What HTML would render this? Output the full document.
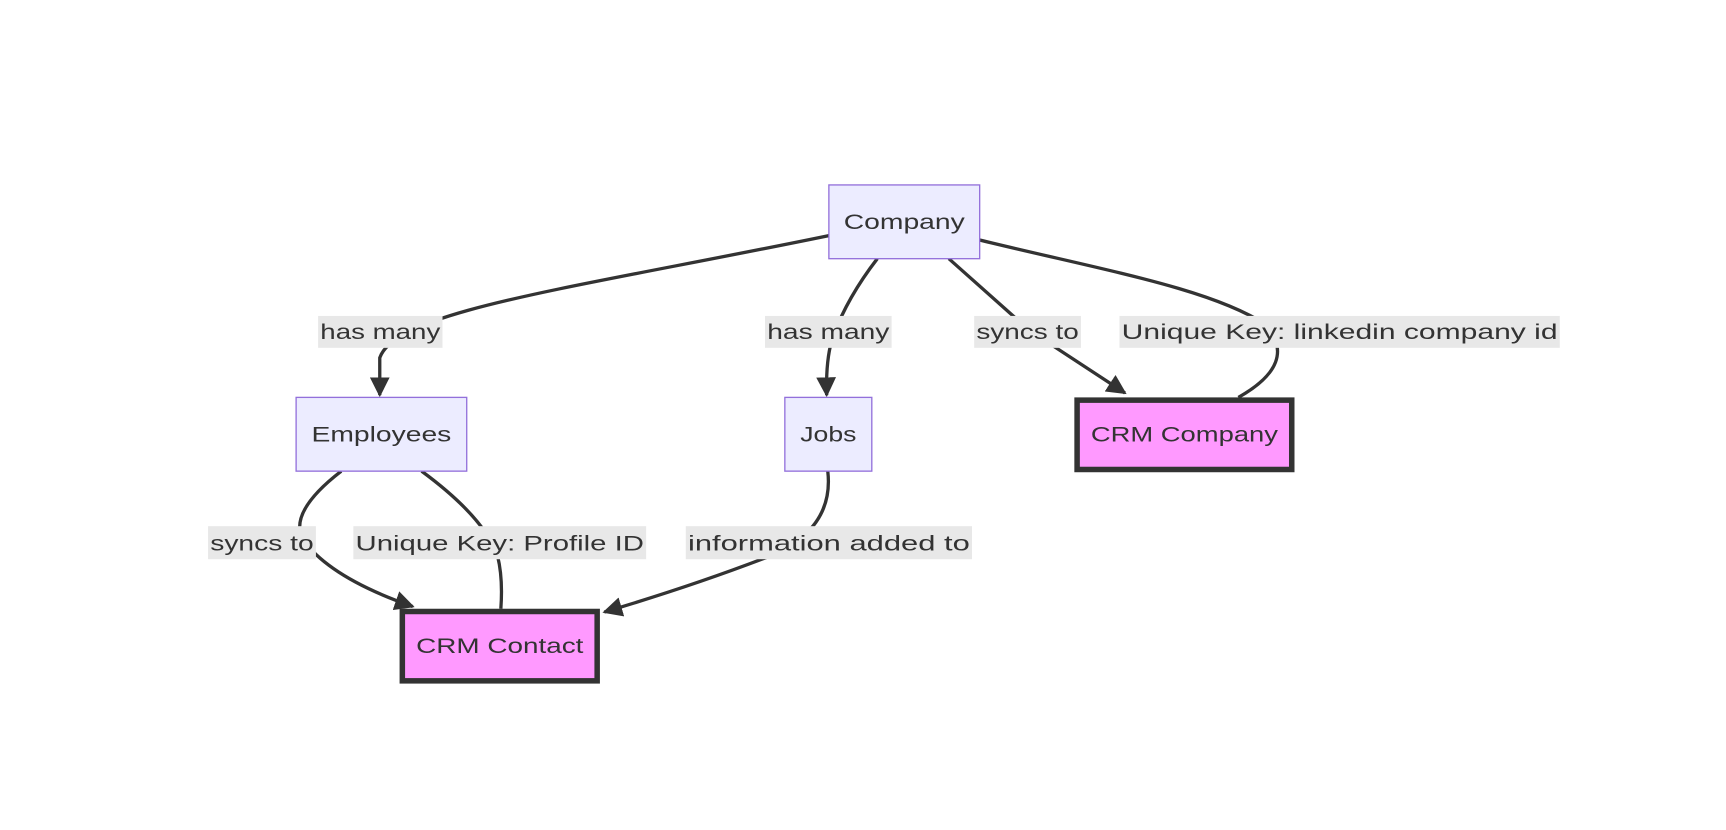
<!DOCTYPE html>
<html><head><meta charset="utf-8"><style>
html,body{margin:0;padding:0;background:#fff;}
svg{display:block;}
text{font-family:"Liberation Sans",sans-serif;font-size:19px;fill:#333;}
</style></head><body>
<svg width="1726" height="830" viewBox="0 0 1568 754" preserveAspectRatio="none" xmlns="http://www.w3.org/2000/svg">
<defs>
<marker id="a" viewBox="0 0 10 10" refX="9" refY="5" markerWidth="18" markerHeight="18" markerUnits="userSpaceOnUse" orient="auto">
<path d="M0,0 L10,5 L0,10 z" fill="#333"/></marker>
</defs>
<g fill="none" stroke="#333" stroke-width="3">
<path d="M753,214 C520,262 360,282 345,325 L345,359" marker-end="url(#a)"/>
<path d="M797,235 Q770,270 757,305 Q750,325 751,359" marker-end="url(#a)"/>
<path d="M862,235 L935,300 L1022,357" marker-end="url(#a)"/>
<path d="M890,218 C1000,245 1100,262 1150,295 Q1180,330 1125,361"/>
<path d="M310,428 Q262,465 275,490 Q300,525 375,551" marker-end="url(#a)"/>
<path d="M383,428 Q440,470 452,505 Q457,525 455,553"/>
<path d="M752,428 Q758,480 700,505 Q630,532 549,556" marker-end="url(#a)"/>
</g>
<g fill="#e8e8e8">
<rect x="289" y="287" width="113" height="29"/>
<rect x="695" y="287" width="115" height="29"/>
<rect x="885" y="287" width="97" height="29"/>
<rect x="1017" y="287" width="400" height="29"/>
<rect x="189" y="478" width="98" height="30"/>
<rect x="321" y="478" width="266" height="30"/>
<rect x="623" y="478" width="260" height="30"/>
</g>
<g text-anchor="middle">
<text x="345.5" y="308" textLength="109" lengthAdjust="spacingAndGlyphs">has many</text>
<text x="752.5" y="308" textLength="111" lengthAdjust="spacingAndGlyphs">has many</text>
<text x="933.5" y="308" textLength="93" lengthAdjust="spacingAndGlyphs">syncs to</text>
<text x="1217" y="308" textLength="396" lengthAdjust="spacingAndGlyphs">Unique Key: linkedin company id</text>
<text x="238" y="500" textLength="94" lengthAdjust="spacingAndGlyphs">syncs to</text>
<text x="454" y="500" textLength="262" lengthAdjust="spacingAndGlyphs">Unique Key: Profile ID</text>
<text x="753" y="500" textLength="256" lengthAdjust="spacingAndGlyphs">information added to</text>
</g>
<g fill="#ececff" stroke="#9370db" stroke-width="1.2">
<rect x="753" y="168" width="137" height="67"/>
<rect x="269" y="361" width="155" height="67"/>
<rect x="713" y="361" width="79" height="67"/>
</g>
<g fill="#ff99ff" stroke="#333" stroke-width="5">
<rect x="978.5" y="363.5" width="195" height="63"/>
<rect x="365.5" y="555.5" width="177" height="63"/>
</g>
<g text-anchor="middle">
<text x="821.5" y="208" textLength="110" lengthAdjust="spacingAndGlyphs">Company</text>
<text x="346.5" y="401" textLength="127" lengthAdjust="spacingAndGlyphs">Employees</text>
<text x="752.5" y="401" textLength="51" lengthAdjust="spacingAndGlyphs">Jobs</text>
<text x="1076" y="401" textLength="170" lengthAdjust="spacingAndGlyphs">CRM Company</text>
<text x="454" y="593" textLength="152" lengthAdjust="spacingAndGlyphs">CRM Contact</text>
</g>
</svg>
</body></html>
